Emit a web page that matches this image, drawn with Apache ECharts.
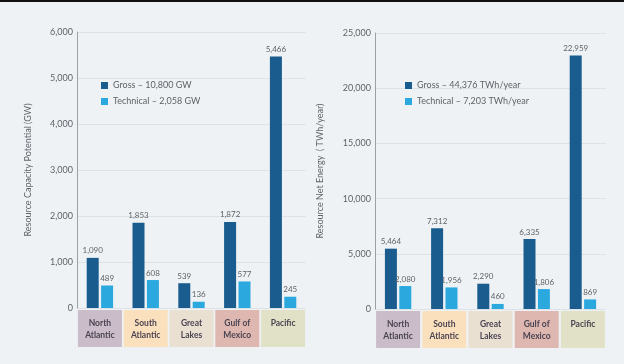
<!DOCTYPE html>
<html>
<head>
<meta charset="utf-8">
<script src="https://cdn.jsdelivr.net/npm/echarts@6/dist/echarts.min.js"></script>
<style>
  html, body { margin: 0; padding: 0; background: #fff; }
  #chart { width: 624px; height: 364px; background: #eff2f5; border-top: 2px solid #111; box-sizing: border-box; }
</style>
</head>
<body>
<div id="chart"></div>
<script>
// regions (bottom boxes)
var regions = ['North\nAtlantic', 'South\nAtlantic', 'Great\nLakes', 'Gulf of\nMexico', 'Pacific\n '];
var regionColors = ['#cbbcc9', '#fbe0bd', '#e9e0d1', '#deb8b0', '#e0e1c6'];

// capacity (GW)
var capGross = [1090, 1853, 539, 1872, 5466];
var capTech = [489, 608, 136, 577, 245];
var capTicks = [0, 1000, 2000, 3000, 4000, 5000, 6000];

// net energy (TWh/year)
var enGross = [5464, 7312, 2290, 6335, 22959];
var enTech = [2080, 1956, 460, 1806, 869];
var enTicks = [0, 5000, 10000, 15000, 20000, 25000];

var grossName1 = 'Gross – 10,800 GW';
var techName1 = 'Technical – 2,058 GW';
var grossName2 = 'Gross – 44,376 TWh/year';
var techName2 = 'Technical – 7,203 TWh/year';

var darkBlue = '#195c8d';
var lightBlue = '#2ba9df';
var textColor = '#5f6368';
var fontFam = 'Lato, "Open Sans", sans-serif';

// rich styles for the colored region boxes under the axis
var rich = {};
regionColors.forEach(function (c, i) {
  rich['t' + i] = { backgroundColor: c, width: 44, height: 7, lineHeight: 7, fontSize: 1 };
  rich['m' + i] = { backgroundColor: c, width: 44, height: 12, lineHeight: 12, align: 'center',
    fontSize: 8.5, color: '#4b4452', fontWeight: 'bold', fontFamily: fontFam };
  rich['b' + i] = { backgroundColor: c, width: 44, height: 6, lineHeight: 6, fontSize: 1 };
});

function regionLabel(value, idx) {
  var lines = value.split('\n');
  return '{t' + idx + '| }\n{m' + idx + '|' + lines[0] + '}\n{m' + idx + '|' + lines[1] + '}\n{b' + idx + '| }';
}

function fmt(v) {
  return Number(v).toLocaleString('en-US');
}

function xAxisFor(gridIndex) {
  return {
    type: 'category',
    gridIndex: gridIndex,
    data: regions,
    axisLine: { show: false },
    axisTick: { show: false },
    axisLabel: { margin: 2, interval: 0, formatter: regionLabel, rich: rich }
  };
}

function yAxisFor(gridIndex, max, interval, name, nameGap) {
  return {
    type: 'value',
    gridIndex: gridIndex,
    min: 0,
    max: max,
    interval: interval,
    name: name,
    nameLocation: 'middle',
    nameGap: nameGap,
    nameTextStyle: { color: textColor, fontSize: 9, fontFamily: fontFam },
    axisLine: { show: true, lineStyle: { color: '#9aa0a6', width: 1 } },
    axisTick: { show: false },
    axisLabel: { color: textColor, fontSize: 9, margin: 4, fontFamily: fontFam, formatter: fmt },
    splitLine: { show: true, lineStyle: { color: '#dde2e7', width: 1 } }
  };
}

function barSeries(name, data, color, axisIdx) {
  return {
    name: name,
    type: 'bar',
    xAxisIndex: axisIdx,
    yAxisIndex: axisIdx,
    data: data,
    barWidth: 12,
    barGap: '20%',
    itemStyle: { color: color },
    label: {
      show: true,
      position: 'top',
      distance: 3,
      fontSize: 8,
      color: textColor,
      fontFamily: fontFam,
      formatter: function (p) { return fmt(p.value); }
    }
  };
}

var myChart = echarts.init(document.getElementById('chart'));
myChart.setOption({
  animation: false,
  textStyle: { fontFamily: fontFam },
  grid: [
    { left: 77, right: 318, top: 30, bottom: 56 },
    { left: 375, right: 18, top: 31, bottom: 55 }
  ],
  legend: [
    {
      data: [grossName1, techName1],
      orient: 'vertical',
      left: 96, top: 74,
      itemWidth: 7, itemHeight: 7, itemGap: 7,
      icon: 'rect',
      textStyle: { color: textColor, fontSize: 9, fontFamily: fontFam }
    },
    {
      data: [grossName2, techName2],
      orient: 'vertical',
      left: 400, top: 74,
      itemWidth: 7, itemHeight: 7, itemGap: 7,
      icon: 'rect',
      textStyle: { color: textColor, fontSize: 9, fontFamily: fontFam }
    }
  ],
  xAxis: [xAxisFor(0), xAxisFor(1)],
  yAxis: [
    yAxisFor(0, 6000, 1000, 'Resource Capacity Potential (GW)', 44),
    yAxisFor(1, 25000, 5000, 'Resource Net Energy  ( TWh/year)', 50)
  ],
  series: [
    barSeries(grossName1, capGross, darkBlue, 0),
    barSeries(techName1, capTech, lightBlue, 0),
    barSeries(grossName2, enGross, darkBlue, 1),
    barSeries(techName2, enTech, lightBlue, 1)
  ]
});
</script>
</body>
</html>
